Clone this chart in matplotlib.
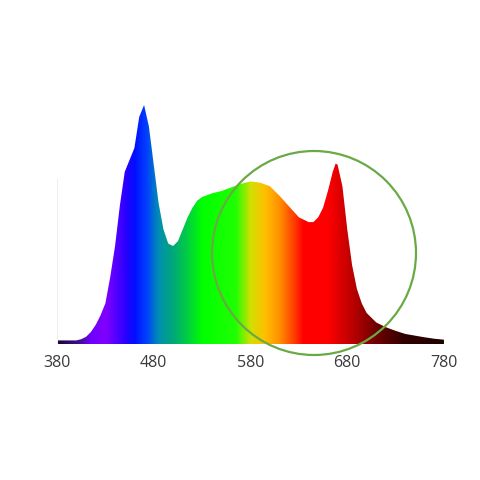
import numpy as np
import matplotlib
matplotlib.use("Agg")
from matplotlib import pyplot as plt
from matplotlib.colors import LinearSegmentedColormap
from matplotlib.patches import Circle

# spectrum (relative intensity)
wl = [380, 390, 400, 405, 410, 415, 420, 425, 430, 435, 440, 445, 450, 455,
      460, 465, 470, 475, 480, 485, 490, 495, 500, 505, 510, 515, 520, 525,
      530, 540, 550, 560, 570, 580, 590, 600, 610, 620, 630, 640, 645, 650,
      655, 660, 665, 668, 670, 675, 680, 685, 690, 695, 700, 710, 720, 730,
      740, 750, 760, 770, 780]
val = [0.015, 0.015, 0.015, 0.02, 0.03, 0.05, 0.08, 0.12, 0.17, 0.28, 0.41,
       0.58, 0.72, 0.77, 0.82, 0.95, 1.0, 0.91, 0.75, 0.59, 0.48, 0.42, 0.41,
       0.43, 0.48, 0.53, 0.57, 0.60, 0.615, 0.63, 0.64, 0.655, 0.67, 0.68,
       0.675, 0.66, 0.62, 0.575, 0.53, 0.51, 0.51, 0.53, 0.57, 0.64, 0.72,
       0.755, 0.75, 0.66, 0.48, 0.33, 0.23, 0.17, 0.13, 0.09, 0.07, 0.055,
       0.042, 0.035, 0.028, 0.022, 0.018]
ticks = [380, 480, 580, 680, 780]

# wavelength -> colour stops
stops = [(380, "#1a0040"), (400, "#3a1080"), (415, "#7000ff"), (430, "#8000ff"),
         (450, "#2a00ff"), (460, "#0010ff"), (472, "#0040ff"), (485, "#0090b0"),
         (500, "#00a878"), (515, "#00d040"), (530, "#00ff00"), (565, "#20ff00"),
         (580, "#d0e000"), (595, "#ffc000"), (610, "#ff9000"), (625, "#ff4000"),
         (635, "#ff0000"), (660, "#ff0000"), (690, "#b00000"), (710, "#700000"),
         (740, "#300000"), (780, "#200000")]
cmap = LinearSegmentedColormap.from_list(
    "spec", [((w - 380) / 400.0, c) for w, c in stops])

fig = plt.figure(figsize=(4.8, 4.8), dpi=100)
ax = fig.add_axes([57/480, 136/480, 387/480, 251/480])
ax.set_xlim(380, 780)
ax.set_ylim(0, 1.05)

# faint side lines
ax.plot([380, 380], [0, 0.69], color="#eeeeee", lw=0.8)
ax.plot([780, 780], [0, 0.69], color="#eeeeee", lw=0.8)

poly = ax.fill_between(wl, 0, val, facecolor="none", edgecolor="none")
grad = np.linspace(0, 1, 800).reshape(1, -1)
im = ax.imshow(grad, cmap=cmap, aspect="auto", extent=[380, 780, 0, 1.05],
               origin="lower", interpolation="bilinear")
path = poly.get_paths()[0]
im.set_clip_path(path, transform=ax.transData)

for s in ax.spines.values():
    s.set_visible(False)
ax.set_yticks([])
ax.set_xticks(ticks)
ax.set_xticklabels([str(t) for t in ticks], fontsize=11.5, color="#3a3a3a",
                   family="Open Sans")
ax.tick_params(axis="x", length=0, pad=8)

circ = Circle((314/480, 1 - 253/480), 102/480, transform=fig.transFigure,
              fill=False, edgecolor="#6aaa45", lw=1.6)
fig.patches.append(circ)

fig.savefig("out.png", dpi=100, facecolor="white")
